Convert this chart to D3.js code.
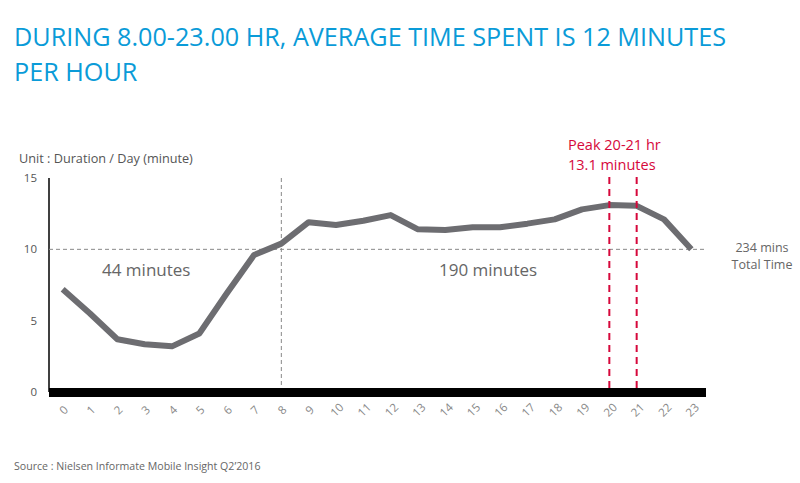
<!DOCTYPE html>
<html>
<head>
<meta charset="utf-8">
<script src="https://d3js.org/d3.v7.min.js"></script>
<style>
  body { margin: 0; background: #fff; }
  svg { display: block; font-family: "Open Sans", sans-serif; }
</style>
</head>
<body>
<svg id="chart" width="800" height="483"></svg>
<script>
// hours of day and average minutes spent per hour
var hours = d3.range(0, 24);
var minutes = [7.2, 5.5, 3.7, 3.35, 3.2, 4.1, 6.9, 9.6, 10.4, 11.9, 11.7, 12.0,
               12.4, 11.4, 11.35, 11.55, 11.55, 11.8, 12.1, 12.8, 13.1, 13.05, 12.1, 10.0];
var yTicks = [0, 5, 10, 15];
var splitHour = 8;
var peakHours = [20, 21];
var avgLine = 10;
var titleLines = ["DURING 8.00-23.00 HR, AVERAGE TIME SPENT IS 12 MINUTES", "PER HOUR"];

var svg = d3.select("#chart");
var blue = "#0a9bd8", red = "#d6083b", grey = "#6d6d71";

var x = d3.scaleBand().domain(hours).range([49, 705]);
var y = d3.scaleLinear().domain([0, 15]).range([392, 178]);
var cx = function(h) { return x(h) + x.bandwidth() / 2; };

// title
svg.append("g").selectAll("text")
  .data(titleLines)
  .enter().append("text")
  .attr("x", 14)
  .attr("y", function(d, i) { return 46 + i * 35; })
  .attr("fill", blue)
  .attr("font-size", 25.2)
  .text(function(d) { return d; });

svg.append("text")
  .attr("x", 19).attr("y", 163)
  .attr("fill", "#555").attr("font-size", 12.7)
  .text("Unit : Duration / Day (minute)");

// y axis
svg.append("line")
  .attr("x1", 49).attr("x2", 49)
  .attr("y1", y(15)).attr("y2", y(0))
  .attr("stroke", "#000").attr("stroke-width", 1.5);

svg.append("g").selectAll("text")
  .data(yTicks)
  .enter().append("text")
  .attr("x", 37)
  .attr("y", function(d) { return y(d) + 4; })
  .attr("text-anchor", "end")
  .attr("fill", "#555").attr("font-size", 11.5)
  .text(function(d) { return d; });

// reference lines
svg.append("line")
  .attr("x1", 49).attr("x2", 707)
  .attr("y1", y(avgLine)).attr("y2", y(avgLine))
  .attr("stroke", "#888").attr("stroke-width", 1)
  .attr("stroke-dasharray", "4,3");

svg.append("line")
  .attr("x1", cx(splitHour)).attr("x2", cx(splitHour))
  .attr("y1", y(15)).attr("y2", y(0))
  .attr("stroke", "#888").attr("stroke-width", 1)
  .attr("stroke-dasharray", "4,3");

// line
var line = d3.line()
  .x(function(d, i) { return cx(hours[i]); })
  .y(function(d) { return y(d); });

svg.append("path")
  .datum(minutes)
  .attr("d", line)
  .attr("fill", "none")
  .attr("stroke", grey)
  .attr("stroke-width", 6)
  .attr("stroke-linejoin", "round");

// x axis bar
svg.append("rect")
  .attr("x", 49).attr("y", 388)
  .attr("width", 657).attr("height", 9)
  .attr("fill", "#000");

// peak markers
svg.append("g").selectAll("line")
  .data(peakHours)
  .enter().append("line")
  .attr("x1", function(d) { return cx(d); })
  .attr("x2", function(d) { return cx(d); })
  .attr("y1", 177).attr("y2", 392)
  .attr("stroke", red).attr("stroke-width", 2)
  .attr("stroke-dasharray", "7,5");

svg.append("g").selectAll("text")
  .data(["Peak 20-21 hr", "13.1 minutes"])
  .enter().append("text")
  .attr("x", 568)
  .attr("y", function(d, i) { return 150 + i * 20; })
  .attr("fill", red).attr("font-size", 14.5)
  .text(function(d) { return d; });

// x tick labels, slanted up to the right
var xLabels = svg.append("g");
hours.forEach(function(h) {
  xLabels.append("g")
    .attr("transform", "translate(" + (cx(h) + 1) + ",410)")
    .append("text")
    .attr("transform", "rotate(-45)")
    .attr("text-anchor", "middle")
    .attr("dy", "0.35em")
    .attr("fill", "#888").attr("font-size", 11.5)
    .text(h);
});

// annotations
svg.append("text")
  .attr("x", 102).attr("y", 276)
  .attr("fill", "#666").attr("font-size", 17)
  .text("44 minutes");

svg.append("text")
  .attr("x", 439).attr("y", 276)
  .attr("fill", "#666").attr("font-size", 17)
  .text("190 minutes");

svg.append("g").selectAll("text")
  .data(["234 mins", "Total Time"])
  .enter().append("text")
  .attr("x", 762)
  .attr("y", function(d, i) { return 252 + i * 17; })
  .attr("text-anchor", "middle")
  .attr("fill", "#666").attr("font-size", 12.5)
  .text(function(d) { return d; });

svg.append("text")
  .attr("x", 14).attr("y", 470)
  .attr("fill", "#666").attr("font-size", 10.6)
  .text("Source : Nielsen  Informate Mobile Insight Q2\u20192016");
</script>
</body>
</html>
